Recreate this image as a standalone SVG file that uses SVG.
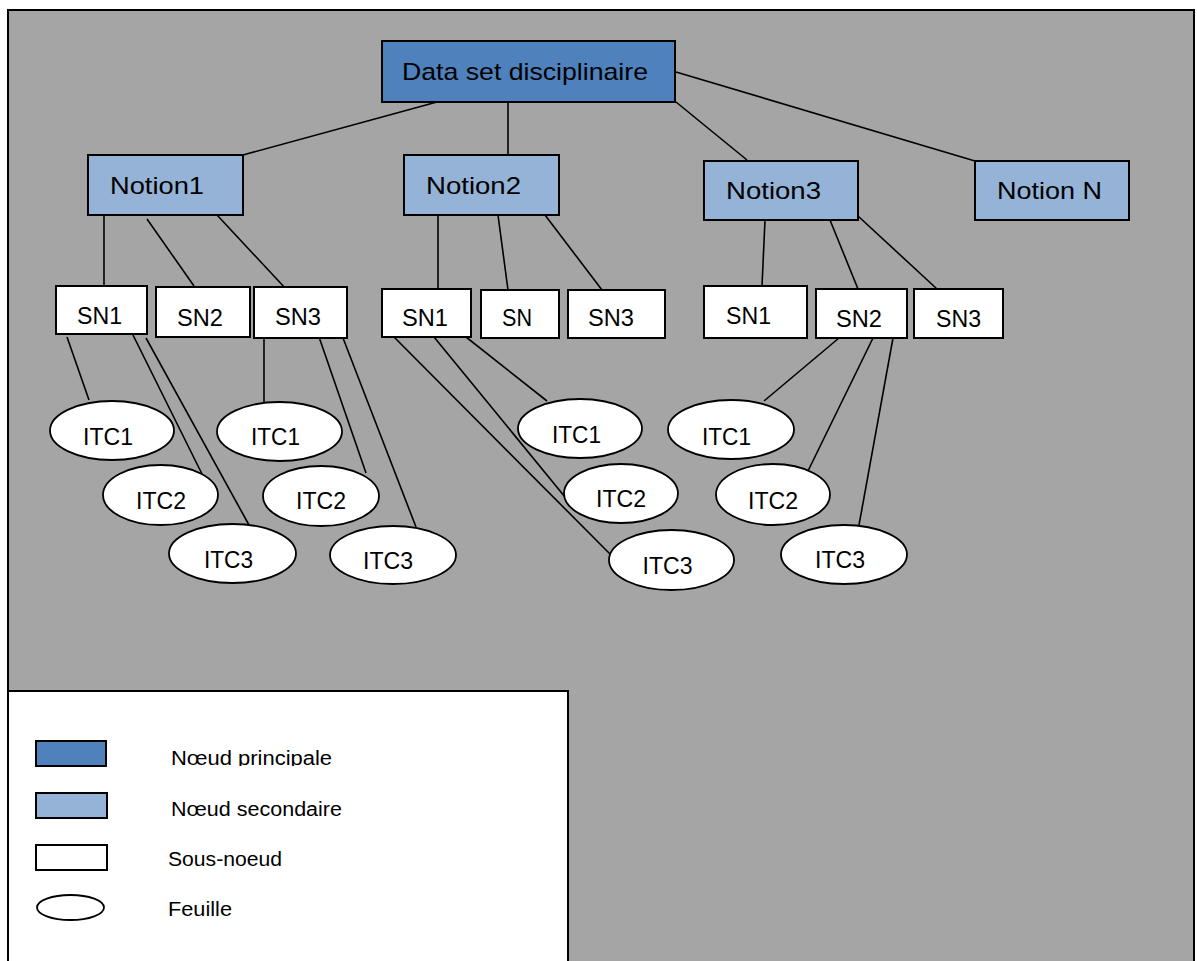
<svg xmlns="http://www.w3.org/2000/svg" width="1197" height="961" viewBox="0 0 1197 961">
<style>
.main{fill:#4F81BD;stroke:#000;stroke-width:2}
.sec{fill:#95B3D7;stroke:#000;stroke-width:2}
.sub{fill:#fff;stroke:#000;stroke-width:2}
.leaf{fill:#fff;stroke:#000;stroke-width:1.8}
.t{font-family:"Liberation Sans",Arial,sans-serif;font-size:24px;fill:#000}
.lt{font-family:"Liberation Sans",Arial,sans-serif;font-size:20px;fill:#000}
#connectors line{stroke:#000;stroke-width:1.6}
</style>
<defs>
<clipPath id="c1"><rect x="160" y="730" width="200" height="36"/></clipPath>
<clipPath id="c2"><rect x="160" y="780" width="200" height="37"/></clipPath>
</defs>
<rect width="1197" height="961" fill="#fff"/>
<rect id="frame" x="8" y="10" width="1186" height="960" fill="#A5A5A5" stroke="#000" stroke-width="2"/>

<g id="connectors">
<line x1="437" y1="102" x2="243" y2="155"/>
<line x1="508" y1="102" x2="508" y2="155"/>
<line x1="676" y1="102" x2="747" y2="160"/>
<line x1="676" y1="72" x2="975" y2="161"/>
<line x1="104" y1="215" x2="104" y2="286"/>
<line x1="147" y1="219" x2="194" y2="286"/>
<line x1="217" y1="215" x2="286" y2="289"/>
<line x1="438" y1="215" x2="438" y2="289"/>
<line x1="498" y1="215" x2="508" y2="290"/>
<line x1="545" y1="215" x2="602" y2="290"/>
<line x1="765" y1="220" x2="762" y2="286"/>
<line x1="830" y1="220" x2="858" y2="289"/>
<line x1="858" y1="216" x2="937" y2="289"/>
<line x1="67" y1="337" x2="89" y2="400"/>
<line x1="133" y1="335" x2="202" y2="474"/>
<line x1="146" y1="338" x2="249" y2="525"/>
<line x1="264" y1="338" x2="264" y2="402"/>
<line x1="318" y1="334" x2="366" y2="473"/>
<line x1="343" y1="338" x2="416" y2="527"/>
<line x1="394" y1="337" x2="610" y2="554"/>
<line x1="434" y1="337" x2="565" y2="497"/>
<line x1="466" y1="337" x2="547" y2="401"/>
<line x1="839" y1="338" x2="764" y2="401"/>
<line x1="873" y1="338" x2="807" y2="473"/>
<line x1="893" y1="338" x2="859" y2="525"/>
</g>

<g id="root"><rect class="main" x="382" y="41" width="293" height="61"/><text class="t" x="402" y="80" textLength="246" lengthAdjust="spacingAndGlyphs">Data set disciplinaire</text></g>

<g id="notion1"><rect class="sec" x="88" y="155" width="155" height="60"/><text class="t" x="110" y="194" textLength="94" lengthAdjust="spacingAndGlyphs">Notion1</text></g>
<g id="notion2"><rect class="sec" x="404" y="155" width="155" height="60"/><text class="t" x="426" y="194" textLength="95" lengthAdjust="spacingAndGlyphs">Notion2</text></g>
<g id="notion3"><rect class="sec" x="704" y="161" width="154" height="59"/><text class="t" x="726" y="199" textLength="95" lengthAdjust="spacingAndGlyphs">Notion3</text></g>
<g id="notionN"><rect class="sec" x="975" y="161" width="154" height="59"/><text class="t" x="997" y="199" textLength="105" lengthAdjust="spacingAndGlyphs">Notion N</text></g>

<g id="n1-sn1"><rect class="sub" x="56" y="286" width="91" height="48"/><text class="t" x="77" y="324" textLength="45" lengthAdjust="spacingAndGlyphs">SN1</text></g>
<g id="n1-sn2"><rect class="sub" x="156" y="287" width="94" height="50"/><text class="t" x="177" y="326" textLength="46" lengthAdjust="spacingAndGlyphs">SN2</text></g>
<g id="n1-sn3"><rect class="sub" x="254" y="287" width="93" height="51"/><text class="t" x="275" y="325" textLength="46" lengthAdjust="spacingAndGlyphs">SN3</text></g>

<g id="n2-sn1"><rect class="sub" x="382" y="289" width="89" height="48"/><text class="t" x="402" y="326" textLength="46" lengthAdjust="spacingAndGlyphs">SN1</text></g>
<g id="n2-sn"><rect class="sub" x="481" y="290" width="78" height="48"/><text class="t" x="502" y="326" textLength="30" lengthAdjust="spacingAndGlyphs">SN</text></g>
<g id="n2-sn3"><rect class="sub" x="568" y="290" width="97" height="48"/><text class="t" x="588" y="326" textLength="46" lengthAdjust="spacingAndGlyphs">SN3</text></g>

<g id="n3-sn1"><rect class="sub" x="704" y="286" width="103" height="52"/><text class="t" x="726" y="324" textLength="45" lengthAdjust="spacingAndGlyphs">SN1</text></g>
<g id="n3-sn2"><rect class="sub" x="816" y="289" width="91" height="49"/><text class="t" x="836" y="327" textLength="46" lengthAdjust="spacingAndGlyphs">SN2</text></g>
<g id="n3-sn3"><rect class="sub" x="914" y="289" width="89" height="49"/><text class="t" x="936" y="327" textLength="45" lengthAdjust="spacingAndGlyphs">SN3</text></g>

<g id="n1-itc1"><ellipse class="leaf" cx="112" cy="430.5" rx="62" ry="29.5"/><text class="t" x="83" y="445" textLength="50" lengthAdjust="spacingAndGlyphs">ITC1</text></g>
<g id="n1-itc2"><ellipse class="leaf" cx="160.5" cy="495" rx="57.5" ry="30"/><text class="t" x="136" y="509" textLength="50" lengthAdjust="spacingAndGlyphs">ITC2</text></g>
<g id="n1-itc3"><ellipse class="leaf" cx="232.5" cy="553.5" rx="63.5" ry="29.5"/><text class="t" x="204" y="568" textLength="49" lengthAdjust="spacingAndGlyphs">ITC3</text></g>
<g id="n1b-itc1"><ellipse class="leaf" cx="279.5" cy="431.5" rx="62.5" ry="29.5"/><text class="t" x="251" y="445" textLength="49" lengthAdjust="spacingAndGlyphs">ITC1</text></g>
<g id="n1b-itc2"><ellipse class="leaf" cx="321" cy="496" rx="58" ry="30"/><text class="t" x="296" y="509" textLength="50" lengthAdjust="spacingAndGlyphs">ITC2</text></g>
<g id="n1b-itc3"><ellipse class="leaf" cx="393" cy="555" rx="63" ry="29"/><text class="t" x="363" y="569" textLength="50" lengthAdjust="spacingAndGlyphs">ITC3</text></g>

<g id="n2-itc1"><ellipse class="leaf" cx="580" cy="428.5" rx="62" ry="29.5"/><text class="t" x="552" y="443" textLength="49" lengthAdjust="spacingAndGlyphs">ITC1</text></g>
<g id="n2-itc2"><ellipse class="leaf" cx="621" cy="493.5" rx="57" ry="29.5"/><text class="t" x="596" y="507" textLength="50" lengthAdjust="spacingAndGlyphs">ITC2</text></g>
<g id="n2-itc3"><ellipse class="leaf" cx="671.5" cy="560" rx="62.5" ry="30"/><text class="t" x="642.5" y="574" textLength="50" lengthAdjust="spacingAndGlyphs">ITC3</text></g>

<g id="n3-itc1"><ellipse class="leaf" cx="731" cy="429.5" rx="63" ry="29.5"/><text class="t" x="702" y="445" textLength="49" lengthAdjust="spacingAndGlyphs">ITC1</text></g>
<g id="n3-itc2"><ellipse class="leaf" cx="773" cy="494.5" rx="57" ry="30.5"/><text class="t" x="748" y="509" textLength="50" lengthAdjust="spacingAndGlyphs">ITC2</text></g>
<g id="n3-itc3"><ellipse class="leaf" cx="844" cy="554.5" rx="63" ry="29.5"/><text class="t" x="815" y="568" textLength="50" lengthAdjust="spacingAndGlyphs">ITC3</text></g>

<g id="legend">
<rect x="8" y="691" width="560" height="280" fill="#fff" stroke="#000" stroke-width="2"/>
<rect class="main" x="36" y="741" width="70" height="25"/>
<text class="lt" x="171" y="765" textLength="161" lengthAdjust="spacingAndGlyphs" clip-path="url(#c1)">Nœud principale</text>
<rect class="sec" x="36" y="793" width="71" height="25"/>
<text class="lt" x="171" y="816" textLength="171" lengthAdjust="spacingAndGlyphs" clip-path="url(#c2)">Nœud secondaire</text>
<rect class="sub" x="36" y="845" width="71" height="25" stroke-width="1.5"/>
<text class="lt" x="168" y="866" textLength="114" lengthAdjust="spacingAndGlyphs">Sous-noeud</text>
<ellipse class="leaf" cx="70.5" cy="907.5" rx="33.5" ry="12.5" stroke-width="1.5"/>
<text class="lt" x="168" y="916" textLength="64" lengthAdjust="spacingAndGlyphs">Feuille</text>
</g>
</svg>
